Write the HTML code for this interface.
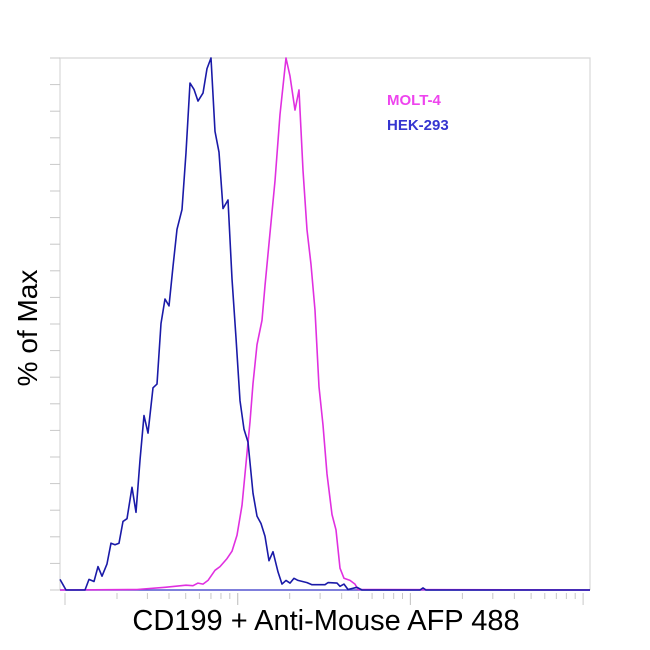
<!DOCTYPE html>
<html><head><meta charset="utf-8"><style>
html,body{margin:0;padding:0;background:#fff;width:650px;height:650px;overflow:hidden}
svg{display:block;font-family:"Liberation Sans",sans-serif}
</style></head><body>
<svg id="chart" width="650" height="650">
<g id="frame"></g>
<g id="yticks"></g>
<g id="xticks"></g>
<g id="series"></g>
<text x="387" y="105" font-size="15" font-weight="bold" fill="#ee44ee">MOLT-4</text>
<text x="387" y="130" font-size="15" font-weight="bold" fill="#3535d0">HEK-293</text>
<text transform="translate(37,328) rotate(-90)" text-anchor="middle" font-size="28" fill="#000">% of Max</text>
<text x="326" y="630" text-anchor="middle" font-size="29" fill="#000">CD199 + Anti-Mouse AFP 488</text>
</svg>
<script>
const blueX=[0,3,6,20,25,29,34,38,42,47,51,55,59,63,67,72,76,80,84,88,93,97,101,105,109,113,117,122,126,130,134,138,143,147,151,155,159,163,168,172,176,180,184,188,193,197,201,205,209,213,218,222,226,230,234,238,247,252,265,268,277,280,284,288,297,302,360,363,366,530];
const blueV=[2,1,0,0,0,2,1.6,4.4,2.6,4.9,8.8,8.5,8.8,12.9,13.4,19.3,14.6,24.4,32.8,29.5,38,38.7,50.1,54.7,53.4,60.8,67.8,71.5,82.2,95.3,94.1,91.9,93.4,98,100,86.2,82.3,71.7,73.3,58.5,47.4,35.6,30.2,27.8,18.2,13.9,12.5,10.1,5.5,7.2,3.4,1.1,1.8,1.3,2.2,1.8,1.4,1,1,1.4,1.3,0.7,1.1,0.1,0.5,0,0,0.4,0,0];
const magX=[0,77,105,126,133,138,143,148,155,160,167,172,177,182,186,190,193,197,202,205,210,215,220,226,230,235,239,243,247,251,255,259,263,267,272,276,280,284,290,295,298,530];
const magV=[0,0.1,0.5,0.9,0.8,1.3,1.1,1.8,3.7,4.4,5.9,7.3,10.3,15.9,23.8,31.6,38.8,46.1,50.7,57.2,67.1,76.9,89.4,100,96.6,90.2,94,78.9,67.7,61.2,52.6,38.2,31,21.8,14.2,11.3,4.1,2.2,1.8,1.1,0.1,0];
const X0=60,X1=590,Y0=590,Y1=58;
function sx(v){return X0+v;}
function sy(v){return Y0-v*(Y0-Y1)/100;}
const NS="http://www.w3.org/2000/svg";
function mk(tag,attrs,parent){const e=document.createElementNS(NS,tag);for(const k in attrs)e.setAttribute(k,attrs[k]);parent.appendChild(e);return e;}
const frame=document.getElementById('frame');
let f=mk('path',{d:`M${X0},${Y0}V${Y1}H${X1}V${Y0}`,fill:'none',stroke:'#d8d8d8','stroke-width':1.2},frame);


let xa=mk('line',{x1:X0,y1:Y0,x2:X1,y2:Y0,stroke:'#5555d0','stroke-width':1.5},frame);


const yt=document.getElementById('yticks');
for(let i=0;i<=20;i++){const y=Y1+i*(Y0-Y1)/20;
let t=mk('line',{x1:50,y1:y,x2:X0,y2:y,stroke:'#c8c8c8','stroke-width':1},yt);

}
const xt=document.getElementById('xticks');
const dec=172.7;
for(let d=0;d<3;d++){for(let m=1;m<=10;m++){const x=65+d*dec+Math.log10(m)*dec;
const len=(m===1||m===10)?12:6;
let t=mk('line',{x1:x,y1:Y0+3,x2:x,y2:Y0+3+len,stroke:'#c8c8c8','stroke-width':1},xt);

}}
const ser=document.getElementById('series');
function line(xs,vs,col,name){let d='';for(let i=0;i<xs.length;i++)d+=(i?'L':'M')+sx(xs[i]).toFixed(1)+','+sy(vs[i]).toFixed(1);
let p=mk('path',{d:d,fill:'none',stroke:col,'stroke-width':1.6,'stroke-linejoin':'round'},ser);

}
line(magX,magV,'#e030e0','molt4-histogram');
line(blueX,blueV,'#1a1aa8','hek293-histogram');
</script>
</body></html>
